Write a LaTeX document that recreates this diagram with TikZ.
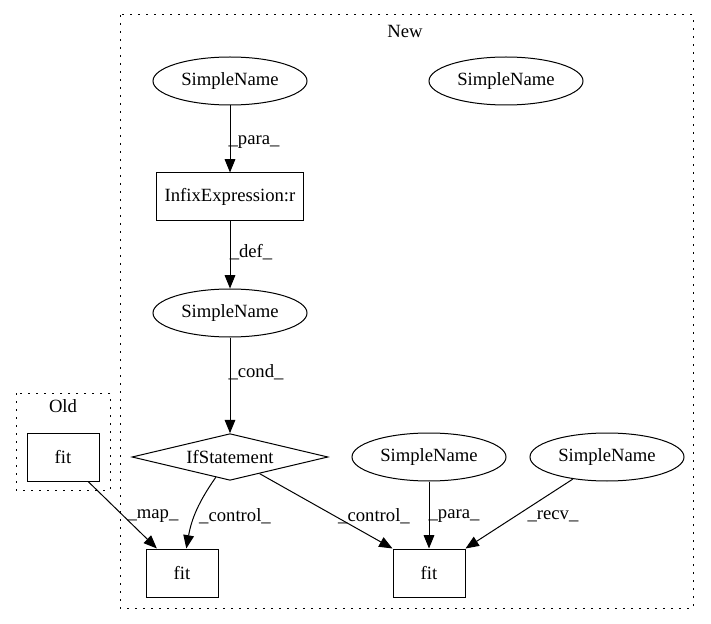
\documentclass[tikz,border=0pt]{standalone}
\usepackage{fontspec}
\setmainfont{Liberation Serif}
\usetikzlibrary{shapes.geometric}
\usetikzlibrary{arrows.meta}

\begin{document}
\begin{tikzpicture}[x=0.75pt, y=0.75pt, font=\fontsize{14}{16}\selectfont,
    every node/.style={inner sep=0pt},
    ell/.style={draw, ellipse, line width=0.75pt, minimum width=115.5pt, minimum height=36pt},
    box/.style={draw, rectangle, line width=0.75pt, minimum height=36pt},
    cond/.style={draw, diamond, aspect=4.2, line width=0.75pt, minimum width=147pt, minimum height=35pt},
    edge/.style={line width=0.75pt, -{Triangle[length=10pt, width=8pt]}},
    cluster/.style={line width=0.75pt, dash pattern=on 1.5pt off 4.5pt}]
            \useasboundingbox (0,0) rectangle (711,-624);

            % Clusters
            \draw[cluster] (120,-15) rectangle (693,-608);
            \node (lnew) at (405,-31) {New};
            \draw[cluster] (16,-393) rectangle (110,-490);
            \node (lold) at (63,-406) {Old};

            % Nodes
            \node[ell] (sn1) at (230,-81) {SimpleName};
            \node[ell] (sn2) at (506,-81) {SimpleName};
            \node[box, minimum width=110pt] (infix) at (230,-197) {InfixExpression:r};
            \node[ell] (sn3) at (230,-313) {SimpleName};
            \node[cond] (ifst) at (230,-457) {IfStatement};
            \node[ell] (sn4) at (429,-457) {SimpleName};
            \node[ell] (sn5) at (607,-457) {SimpleName};
            \node[box, minimum width=54pt] (fitA) at (182,-573) {fit};
            \node[box, minimum width=54pt] (fitB) at (429,-573) {fit};
            \node[box, minimum width=54pt] (fitold) at (63,-457) {fit};

            % Edges
            \draw[edge] (sn1) -- (infix);
            \draw[edge] (infix) -- (sn3);
            \draw[edge] (sn3) -- (ifst);
            \draw[edge] (ifst) to[out=-125, in=80] (fitA);
            \draw[edge] (ifst) -- (fitB.north west);
            \draw[edge] (sn4) -- (fitB);
            \draw[edge] (sn5) -- (fitB.north east);
            \draw[edge] (fitold) -- (fitA);

            % Labels
            \node (lpara1) at (254,-142) {\_para\_};
            \node (ldef) at (251,-252) {\_def\_};
            \node (lcond) at (256,-372) {\_cond\_};
            \node (lmap) at (153,-516) {\_map\_};
            \node (lctrl1) at (235,-516) {\_control\_};
            \node (lctrl2) at (374,-516) {\_control\_};
            \node (lpara2) at (454,-516) {\_para\_};
            \node (lrecv) at (553,-516) {\_recv\_};
        \end{tikzpicture}
\end{document}
